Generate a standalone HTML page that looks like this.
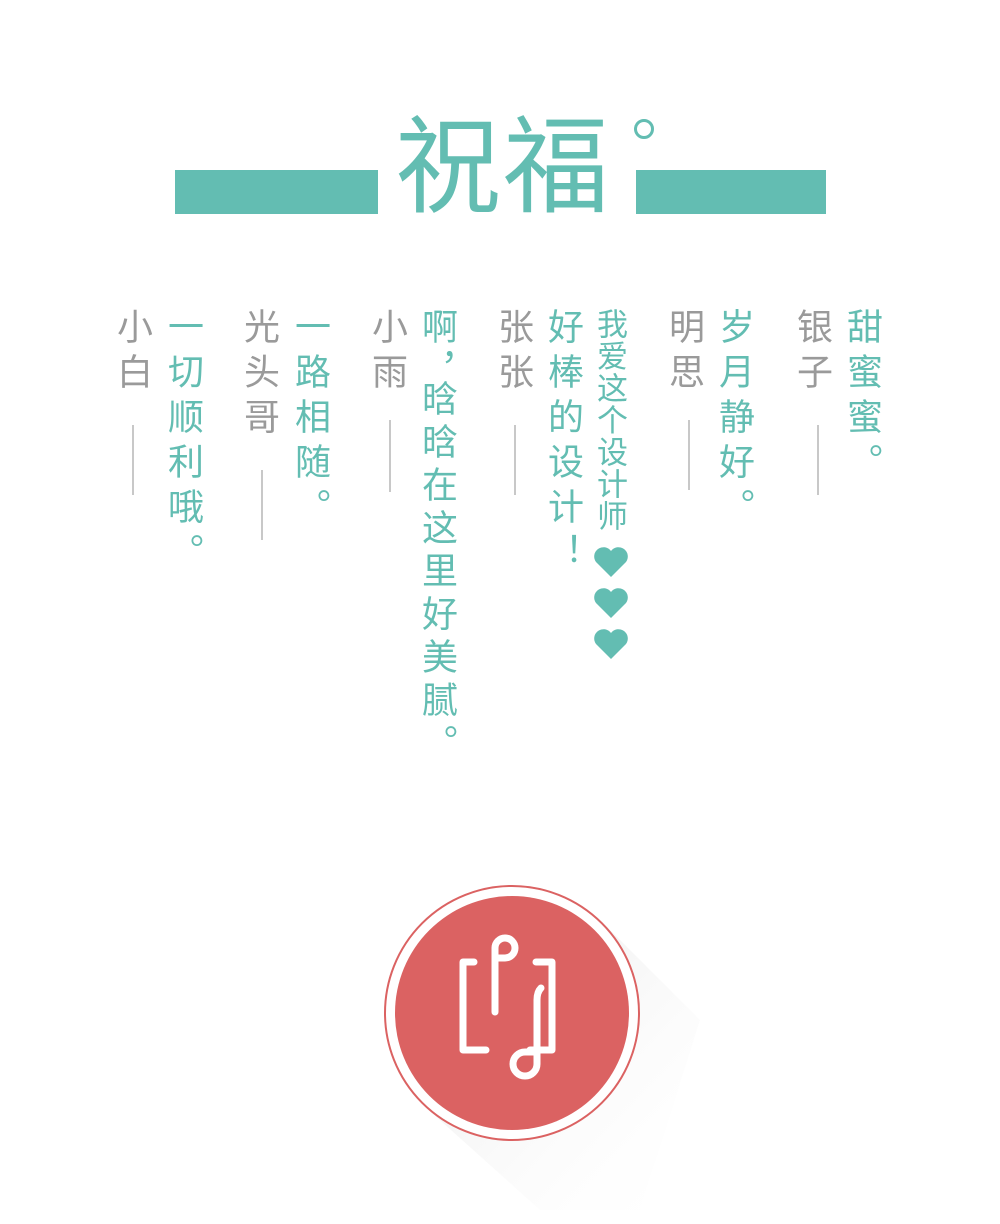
<!DOCTYPE html>
<html><head><meta charset="utf-8"><style>
body{margin:0;width:1000px;height:1224px;background:#fff;position:relative;overflow:hidden;font-family:"Liberation Sans","Noto Sans CJK SC",sans-serif}
.c{position:absolute;writing-mode:vertical-rl;font-size:36px;line-height:36px;letter-spacing:9px;white-space:nowrap}
.t{color:#63bdb2}.g{color:#9a9a9a}
.ln{position:absolute;width:2px;background:#c8c8c8}
.bar{position:absolute;background:#63bdb2;height:44px;top:170px}
</style></head><body>
<div class="bar" style="left:175px;width:203px"></div>
<div class="bar" style="left:636px;width:190px"></div>
<div style="position:absolute;left:395px;top:108px;font-size:106px;line-height:120px;color:#63bdb2;letter-spacing:2px">祝福</div>
<div style="position:absolute;left:634px;top:119px;width:14px;height:14px;border:3px solid #63bdb2;border-radius:50%"></div>

<div class="c t" style="left:844px;top:308px">甜蜜蜜。</div>
<div class="c g" style="left:794px;top:308px">银子</div>
<div class="ln" style="left:817px;top:425px;height:70px"></div>
<div class="c t" style="left:716px;top:308px">岁月静好。</div>
<div class="c g" style="left:666px;top:308px">明思</div>
<div class="ln" style="left:688px;top:420px;height:70px"></div>
<div class="c t" style="left:594px;top:308px;font-size:31px;line-height:31px;letter-spacing:1px">我爱这个设计师</div>
<svg style="position:absolute;left:593px;top:545px" width="36" height="120" viewBox="0 0 36 120">
<g fill="#63bdb2"><path id="h" d="M18 32 L3 17 A8.5 8.5 0 0 1 18 6 A8.5 8.5 0 0 1 33 17 Z"/>
<use href="#h" y="41"/><use href="#h" y="82"/></g></svg>
<div class="c t" style="left:545px;top:308px">好棒的设计！</div>
<div class="c g" style="left:495px;top:308px">张张</div>
<div class="ln" style="left:514px;top:425px;height:70px"></div>
<div class="c t" style="left:419px;top:308px;letter-spacing:7px">啊<span style="margin-bottom:-14px">，</span>晗晗在这里好美腻。</div>
<div class="c g" style="left:369px;top:308px">小雨</div>
<div class="ln" style="left:389px;top:420px;height:72px"></div>
<div class="c t" style="left:292px;top:308px">一路相随。</div>
<div class="c g" style="left:241px;top:308px">光头哥</div>
<div class="ln" style="left:261px;top:470px;height:70px"></div>
<div class="c t" style="left:165px;top:308px">一切顺利哦。</div>
<div class="c g" style="left:114px;top:308px">小白</div>
<div class="ln" style="left:132px;top:425px;height:70px"></div>

<svg style="position:absolute;left:0;top:0" width="1000" height="1224">
<defs><linearGradient id="sg" x1="0" y1="0" x2="1" y2="1"><stop offset="0" stop-color="#e6e6e6"/><stop offset="1" stop-color="#fff" stop-opacity="0"/></linearGradient></defs>
<polygon points="602,922 700,1020 640,1210 540,1210 422,1104" fill="url(#sg)"/>
<circle cx="512" cy="1013" r="127" fill="#fff" stroke="#db6262" stroke-width="2"/>
<circle cx="512" cy="1013" r="117" fill="#db6262"/>
<g fill="none" stroke="#fff" stroke-width="7" stroke-linecap="round" stroke-linejoin="round">
<path d="M474 962 H463 V1050 H486"/>
<path d="M536 962 H552 V1050 H530"/>
<path d="M495 1012 V948 A10 10 0 1 1 505 958 H495"/>
<path d="M541 988 Q537 992 537 1000 V1064 A12 12 0 1 1 525 1052 H537"/>
</g></svg>
</body></html>
